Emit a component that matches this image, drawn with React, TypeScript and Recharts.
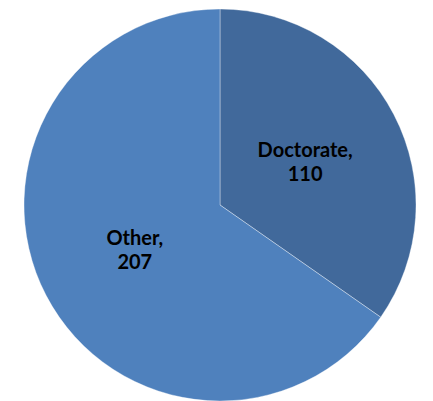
import { PieChart, Pie, Cell } from 'recharts'

const categories = ['Doctorate', 'Other']
const values = [110, 207]
const colors = ['#41699B', '#4F81BD']

const data = categories.map((name, i) => ({ name, value: values[i] }))

const RADIAN = Math.PI / 180

function SliceLabel(props: any) {
  const { cx, cy, midAngle, outerRadius, name, value } = props
  const r = outerRadius * 0.49
  const x = cx + r * Math.cos(-midAngle * RADIAN)
  const y = cy + r * Math.sin(-midAngle * RADIAN)
  return (
    <text
      x={x}
      y={y}
      textAnchor="middle"
      fill="#000"
      fontFamily="Lato, 'Open Sans', sans-serif"
      fontWeight="bold"
      fontSize={20}
    >
      <tspan x={x} dy={-4}>{name},</tspan>
      <tspan x={x} dy={24}>{value}</tspan>
    </text>
  )
}

export default function App() {
  return (
    <div style={{ width: 433, height: 401, background: '#fff' }}>
      <style>{'body{margin:0}'}</style>
      <PieChart width={433} height={401} margin={{ top: 0, right: 0, bottom: 0, left: 0 }}>
        <Pie
          data={data}
          dataKey="value"
          nameKey="name"
          cx={220}
          cy={205}
          outerRadius={196}
          startAngle={90}
          endAngle={-270}
          stroke="rgba(255,255,255,0.35)"
          strokeWidth={1}
          label={SliceLabel}
          labelLine={false}
          isAnimationActive={false}
        >
          {data.map((_, i) => (
            <Cell key={i} fill={colors[i]} />
          ))}
        </Pie>
      </PieChart>
    </div>
  )
}
